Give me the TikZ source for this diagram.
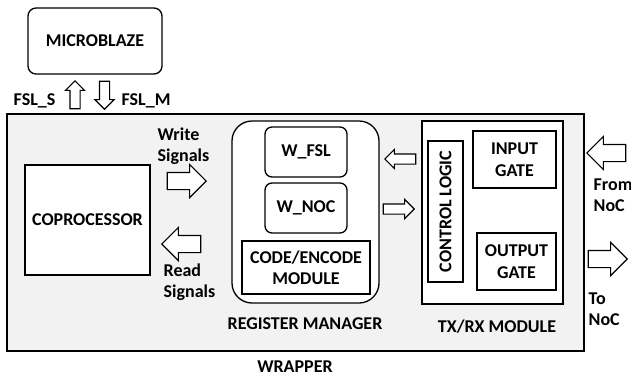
\documentclass[tikz,border=0pt]{standalone}
\usepackage{fontspec}
\setmainfont{Carlito}
\usetikzlibrary{shapes.arrows}
\begin{document}
\begin{tikzpicture}[x=1pt,y=-1pt,line width=1.3pt,
  lbl/.style={font=\bfseries\fontsize{18}{21.5}\selectfont,align=center,inner sep=0},
  lbll/.style={font=\bfseries\fontsize{18}{21.5}\selectfont,align=left,inner sep=0},
  blk/.style={draw,fill=white},
  barrow/.style={single arrow,draw,fill=white,line width=1.1pt,inner xsep=0pt,inner ysep=#1,single arrow head extend=#1,anchor=tip},
]
\useasboundingbox (0,0) rectangle (631,383);
% wrapper
\path[draw,fill=black!5] (7,114) rectangle (584,351);
\node[lbl] (wrap) at (295,367) {WRAPPER};
% microblaze
\draw[rounded corners=8pt] (28,8) rectangle node[lbl] (mb) {MICROBLAZE} (162,74);
\node[barrow=4.5pt,minimum height=28pt,minimum width=19pt,rotate=90] (fsls) at (75,80) {};
\node[barrow=4.5pt,minimum height=28pt,minimum width=19pt,rotate=-90] (fslm) at (104.5,110) {};
\node[lbl,anchor=east] (fslst) at (56,100.5) {FSL\_S};
\node[lbl,anchor=west] (fslmt) at (121,100.5) {FSL\_M};
% coprocessor
\draw[blk] (25,165) rectangle node[lbl] (cop) {COPROCESSOR} (150,275);
\node[lbll,anchor=north west] (ws) at (157,127) {Write\\Signals};
\node[barrow=8pt,minimum height=39pt,minimum width=32pt] (wa) at (207,181) {};
\node[barrow=8pt,minimum height=39pt,minimum width=32pt,rotate=180] (ra) at (161,244) {};
\node[lbll,anchor=north west] (rs) at (163,263) {Read\\Signals};
% register manager
\draw[blk,rounded corners=20pt] (232,121) rectangle (379,303);
\draw[blk,rounded corners=7pt] (265,127) rectangle node[lbl] (wf) {W\_FSL} (347,177);
\draw[blk,rounded corners=7pt] (265,183) rectangle node[lbl] (wn) {W\_NOC} (347,233);
\draw[blk] (242,241) rectangle node[lbl] (ce) {CODE/ENCODE\\MODULE} (370,294);
\node[lbl] (rm) at (305,324) {REGISTER MANAGER};
% arrows between
\node[barrow=4.5pt,minimum height=31pt,minimum width=18pt,rotate=180] (la) at (384,159) {};
\node[barrow=4.5pt,minimum height=31pt,minimum width=18pt] (rta) at (415,209) {};
% tx/rx
\draw[blk] (422,121) rectangle (563,304);
\draw[blk] (428,141) rectangle node[lbl,rotate=90] (cl) {CONTROL LOGIC} (463,282);
\draw[blk] (473,131) rectangle node[lbl] (ig) {INPUT\\GATE} (556,188);
\draw[blk] (477,233) rectangle node[lbl] (og) {OUTPUT\\GATE} (556,290);
\node[lbl] (tx) at (497,327) {TX/RX MODULE};
% NoC arrows
\node[barrow=8pt,minimum height=39pt,minimum width=31pt,rotate=180] (fa) at (586,153) {};
\node[lbll,anchor=north west] (ft) at (593,178) {From\\NoC};
\node[barrow=8pt,minimum height=39pt,minimum width=31pt] (ta) at (628,259) {};
\node[lbll,anchor=north west] (tt) at (588,292) {To\\NoC};
\end{tikzpicture}
\end{document}
